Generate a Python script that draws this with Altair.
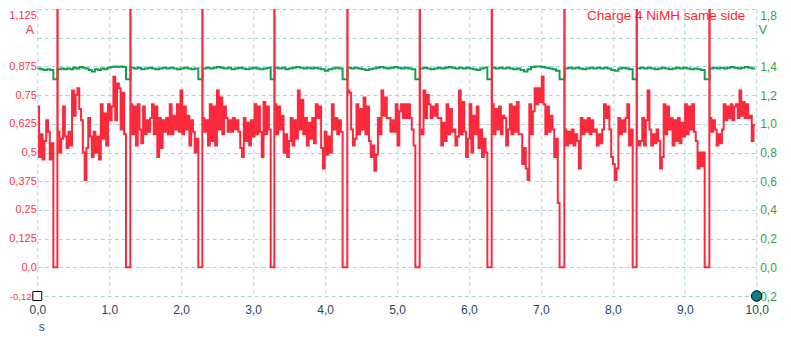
import json
import altair as alt
import pandas as pd

# ---------------- data ----------------
# pulse timing (s): current falls to 0 A, then a large spike (clipped) at the end
pulse_start = [0.223, 1.233, 2.238, 3.244, 4.244, 5.255, 6.256, 7.26, 8.276, 9.277]
pulse_end = [0.279, 1.293, 2.294, 3.295, 4.309, 5.315, 6.316, 7.326, 8.331, 9.342]
trace_end = 9.98
spike_current = 1.6     # above the visible range, clipped
pulse_voltage = 1.31    # voltage while current is 0

# current (A) between pulses
cur_seg0 = [0.70, 0.48, 0.58, 0.47, 0.55, 0.64, 0.59, 0.47, 0.54]
cur_seg1 = [0.59, 0.50, 0.56, 0.70, 0.57, 0.52, 0.59, 0.53, 0.77, 0.66, 0.75, 0.78, 0.69, 0.64,
            0.50, 0.38, 0.52, 0.65, 0.57, 0.48, 0.59, 0.50, 0.57, 0.47, 0.71, 0.56, 0.67, 0.53,
            0.71, 0.64, 0.70, 0.83, 0.64, 0.80, 0.78, 0.60, 0.76, 0.58]
cur_seg2 = [0.71, 0.58, 0.70, 0.53, 0.71, 0.60, 0.54, 0.70, 0.58, 0.64, 0.59, 0.65, 0.71, 0.58,
            0.70, 0.48, 0.65, 0.52, 0.64, 0.59, 0.65, 0.58, 0.71, 0.58, 0.66, 0.60, 0.71, 0.59,
            0.77, 0.58, 0.70, 0.60, 0.66, 0.53, 0.64, 0.59, 0.50, 0.56]
cur_seg3 = [0.65, 0.59, 0.64, 0.53, 0.71, 0.55, 0.70, 0.53, 0.77, 0.60, 0.74, 0.58, 0.70, 0.65,
            0.59, 0.64, 0.59, 0.65, 0.60, 0.64, 0.59, 0.52, 0.48, 0.65, 0.55, 0.63, 0.53, 0.64,
            0.57, 0.71, 0.58, 0.70, 0.59, 0.48, 0.72, 0.58, 0.70, 0.60]
cur_seg4 = [0.71, 0.58, 0.70, 0.60, 0.66, 0.50, 0.58, 0.48, 0.55, 0.65, 0.53, 0.64, 0.56, 0.77,
            0.60, 0.73, 0.58, 0.65, 0.53, 0.63, 0.56, 0.65, 0.54, 0.71, 0.65, 0.70, 0.52, 0.43,
            0.59, 0.49, 0.57, 0.50, 0.71, 0.60, 0.65, 0.58, 0.64, 0.59]
cur_seg5 = [0.77, 0.76, 0.60, 0.53, 0.56, 0.71, 0.58, 0.69, 0.60, 0.74, 0.58, 0.70, 0.55, 0.48,
            0.53, 0.42, 0.49, 0.65, 0.58, 0.77, 0.66, 0.74, 0.65, 0.65, 0.59, 0.64, 0.59, 0.71,
            0.53, 0.68, 0.71, 0.65, 0.71, 0.65, 0.71, 0.65, 0.60, 0.53]
cur_seg6 = [0.60, 0.58, 0.77, 0.65, 0.75, 0.71, 0.65, 0.70, 0.66, 0.71, 0.65, 0.65, 0.53, 0.63,
            0.55, 0.71, 0.58, 0.69, 0.59, 0.60, 0.53, 0.57, 0.77, 0.58, 0.72, 0.59, 0.48, 0.56,
            0.71, 0.50, 0.66, 0.58, 0.70, 0.52, 0.60, 0.48, 0.56, 0.50]
cur_seg7 = [0.71, 0.58, 0.69, 0.60, 0.70, 0.58, 0.66, 0.65, 0.53, 0.60, 0.71, 0.58, 0.70, 0.59,
            0.72, 0.58, 0.58, 0.45, 0.52, 0.43, 0.38, 0.71, 0.58, 0.68, 0.78, 0.71, 0.78, 0.72,
            0.83, 0.71, 0.58, 0.70, 0.59, 0.66, 0.60, 0.48, 0.56, 0.28]
cur_seg8 = [0.60, 0.53, 0.59, 0.54, 0.60, 0.53, 0.58, 0.55, 0.43, 0.65, 0.58, 0.64, 0.59, 0.65,
            0.58, 0.64, 0.59, 0.60, 0.53, 0.58, 0.54, 0.60, 0.71, 0.65, 0.70, 0.60, 0.48, 0.45,
            0.38, 0.43, 0.65, 0.58, 0.64, 0.59, 0.65, 0.71, 0.53, 0.60]
cur_seg9 = [0.55, 0.53, 0.55, 0.65, 0.53, 0.64, 0.77, 0.60, 0.53, 0.58, 0.54, 0.60, 0.55, 0.43,
            0.48, 0.71, 0.58, 0.70, 0.60, 0.65, 0.53, 0.64, 0.55, 0.65, 0.54, 0.63, 0.57, 0.71,
            0.58, 0.70, 0.60, 0.71, 0.59, 0.55, 0.43, 0.50, 0.44, 0.50]
cur_seg10 = [0.65, 0.59, 0.64, 0.60, 0.53, 0.58, 0.54, 0.60, 0.71, 0.64, 0.70, 0.65, 0.71, 0.64,
             0.70, 0.71, 0.65, 0.77, 0.66, 0.72, 0.65, 0.71, 0.65, 0.66, 0.55, 0.62]

# voltage (V) between pulses
volt_seg0 = [1.385, 1.38, 1.375, 1.38, 1.375]
volt_seg1 = [1.38, 1.385, 1.38, 1.385, 1.38, 1.39, 1.385, 1.395, 1.39, 1.385, 1.375, 1.365,
             1.38, 1.375, 1.385, 1.38, 1.39, 1.395, 1.40, 1.395, 1.40, 1.395]
volt_seg2 = [1.39, 1.385, 1.39, 1.38, 1.385, 1.39, 1.385, 1.38, 1.385, 1.39, 1.385, 1.39,
             1.385, 1.38, 1.385, 1.39, 1.385, 1.38, 1.385]
volt_seg3 = [1.385, 1.39, 1.385, 1.39, 1.395, 1.39, 1.385, 1.39, 1.38, 1.385, 1.39, 1.385,
             1.38, 1.385, 1.39, 1.385, 1.38, 1.385, 1.39]
volt_seg4 = [1.39, 1.385, 1.39, 1.38, 1.385, 1.39, 1.395, 1.39, 1.385, 1.39, 1.385, 1.39,
             1.385, 1.38, 1.37, 1.38, 1.385, 1.39, 1.385]
volt_seg5 = [1.39, 1.385, 1.39, 1.385, 1.38, 1.375, 1.38, 1.385, 1.39, 1.395, 1.39, 1.385,
             1.39, 1.395, 1.39, 1.385, 1.39, 1.385, 1.38]
volt_seg6 = [1.385, 1.39, 1.385, 1.38, 1.385, 1.39, 1.385, 1.39, 1.395, 1.39, 1.385, 1.39,
             1.385, 1.39, 1.385, 1.38, 1.375, 1.385, 1.39]
volt_seg7 = [1.39, 1.385, 1.39, 1.385, 1.39, 1.385, 1.38, 1.385, 1.375, 1.365, 1.38, 1.395,
             1.40, 1.40, 1.395, 1.39, 1.385, 1.38, 1.37]
volt_seg8 = [1.385, 1.39, 1.385, 1.39, 1.385, 1.38, 1.385, 1.39, 1.385, 1.39, 1.385, 1.39,
             1.385, 1.375, 1.37, 1.385, 1.39, 1.385, 1.38]
volt_seg9 = [1.385, 1.39, 1.385, 1.39, 1.385, 1.38, 1.385, 1.39, 1.385, 1.38, 1.385, 1.39,
             1.385, 1.39, 1.385, 1.38, 1.385, 1.38, 1.375]
volt_seg10 = [1.385, 1.39, 1.385, 1.39, 1.385, 1.39, 1.395, 1.39, 1.385, 1.39, 1.395, 1.39, 1.385]

# axis ticks / labels
x_ticks = [0, 1, 2, 3, 4, 5, 6, 7, 8, 9, 10]
x_labels = ["0,0", "1,0", "2,0", "3,0", "4,0", "5,0", "6,0", "7,0", "8,0", "9,0", "10,0"]
a_ticks = [-0.125, 0.0, 0.125, 0.25, 0.375, 0.5, 0.625, 0.75, 0.875, 1.0, 1.125]
a_labels = ["-0,125", "0,0", "0,125", "0,25", "0,375", "0,5", "0,625", "0,75", "0,875", "", "1,125"]
v_ticks = [-0.2, 0.0, 0.2, 0.4, 0.6, 0.8, 1.0, 1.2, 1.4, 1.6, 1.8]
v_labels = ["0,2", "0,0", "0,2", "0,4", "0,6", "0,8", "1,0", "1,2", "1,4", "", "1,8"]
title_text = "Charge 4 NiMH same side"

# ---------------- build tables ----------------
cur_segs = [cur_seg0, cur_seg1, cur_seg2, cur_seg3, cur_seg4, cur_seg5,
            cur_seg6, cur_seg7, cur_seg8, cur_seg9, cur_seg10]
volt_segs = [volt_seg0, volt_seg1, volt_seg2, volt_seg3, volt_seg4, volt_seg5,
             volt_seg6, volt_seg7, volt_seg8, volt_seg9, volt_seg10]
seg_start = [0.0] + [e + 0.004 for e in pulse_end]
seg_stop = pulse_start + [trace_end]

rows_a, rows_v = [], []
for k in range(len(cur_segs)):
    s, e = seg_start[k], seg_stop[k]
    vals = cur_segs[k]
    for j, v in enumerate(vals):
        rows_a.append({"t": s + j * (e - s) / len(vals), "a": v})
    vv = volt_segs[k]
    for j, v in enumerate(vv):
        rows_v.append({"t": s + j * (e - s) / len(vv), "v": v})
    if k < len(pulse_start):
        rows_a.append({"t": pulse_start[k], "a": 0.0})
        rows_a.append({"t": pulse_end[k], "a": spike_current})
        rows_v.append({"t": pulse_start[k], "v": pulse_voltage})
rows_a.append({"t": trace_end, "a": cur_segs[-1][-1]})
rows_v.append({"t": trace_end, "v": volt_segs[-1][-1]})
df_a = pd.DataFrame(rows_a)
df_v = pd.DataFrame(rows_v)

# ---------------- styling ----------------
FONT = "Liberation Sans"
GRID = "#a9d5df"
RED = "#fa2a3c"
GREEN = "#12a050"
W, H = 719.4, 287

def lookup(labels, offset, step):
    return "%s[round((datum.value - (%s)) / %s)]" % (json.dumps(labels), offset, step)

x_enc = alt.X("t:Q", title=None,
              scale=alt.Scale(domain=[0, 10], nice=False, zero=False),
              axis=alt.Axis(values=x_ticks, labelExpr=lookup(x_labels, 0, 1),
                            grid=True, gridColor=GRID, gridDash=[4, 3], gridWidth=1,
                            domain=False, ticks=False, tickSize=0, labelPadding=8,
                            labelFlush=False, labelOverlap=False,
                            labelColor="#2a3f6a", labelFont=FONT, labelFontSize=12))

a_scale = alt.Scale(domain=[-0.125, 1.125], nice=False, zero=False)
v_scale = alt.Scale(domain=[-0.2, 1.8], nice=False, zero=False)

volt_line = alt.Chart(df_v).mark_line(
    color=GREEN, strokeWidth=2, interpolate="step-after", clip=True
).encode(
    x=x_enc,
    y=alt.Y("v:Q", title=None, scale=v_scale,
            axis=alt.Axis(orient="right", values=v_ticks, labelExpr=lookup(v_labels, -0.2, 0.2),
                          grid=False, domain=False, ticks=False, tickSize=0, labelPadding=3,
                          labelFlush=False, labelOverlap=False,
                          labelOffset={"condition": {"test": "datum.value > 1.7", "value": 6}, "value": 0},
                          labelColor="#36a048", labelFont=FONT, labelFontSize=12)),
)

cur_line = alt.Chart(df_a).mark_line(
    color=RED, strokeWidth=2, interpolate="step-after", clip=True
).encode(
    x=x_enc,
    y=alt.Y("a:Q", title=None, scale=a_scale,
            axis=alt.Axis(orient="left", values=a_ticks, labelExpr=lookup(a_labels, -0.125, 0.125),
                          grid=True, gridColor=GRID, gridDash=[4, 3], gridWidth=1,
                          domain=False, ticks=False, tickSize=0, labelPadding=1,
                          labelFlush=False, labelOverlap=False,
                          labelOffset={"condition": {"test": "datum.value > 1.1", "value": 6}, "value": 0},
                          labelFontSize={"condition": {"test": "datum.value < 0", "value": 9.5}, "value": 11},
                          labelColor="#f5364a", labelFont=FONT)),
)

corner_sq = alt.Chart(pd.DataFrame({"t": [0.0], "a": [-0.125]})).mark_square(
    size=80, fill="white", stroke="black", strokeWidth=1, opacity=1
).encode(x=x_enc, y=alt.Y("a:Q", scale=a_scale, axis=None))

corner_dot = alt.Chart(pd.DataFrame({"t": [10.0], "a": [-0.125]})).mark_circle(
    size=110, fill="#0e8080", stroke="black", strokeWidth=1, opacity=1
).encode(x=x_enc, y=alt.Y("a:Q", scale=a_scale, axis=None))

def label(text, x, y, color, size=12, align="center"):
    return alt.Chart(pd.DataFrame({"txt": [text]})).mark_text(
        font=FONT, fontSize=size, color=color, align=align, baseline="middle"
    ).encode(text="txt:N", x=alt.value(x), y=alt.value(y))

title = label(title_text, 708, 7, "#ff1f2a", size=13.5, align="right")
unit_a = label("A", -7.5, 20.5, "#f5364a", size=13)
unit_v = label("V", 725.5, 20.5, "#36a048", size=13)
unit_s = label("s", 4.5, 318, "#2a3f6a", size=12)

chart = alt.layer(
    volt_line, cur_line, corner_sq, corner_dot, title, unit_a, unit_v, unit_s
).resolve_scale(y="independent").properties(
    width=W, height=H,
    autosize=alt.AutoSizeParams(type="none"),
    padding={"left": 29.3, "top": 1, "right": 26.3, "bottom": 40},
    background="white",
).configure_view(stroke=None)

chart.save("out.html", embed_options={"renderer": "svg", "actions": False})
